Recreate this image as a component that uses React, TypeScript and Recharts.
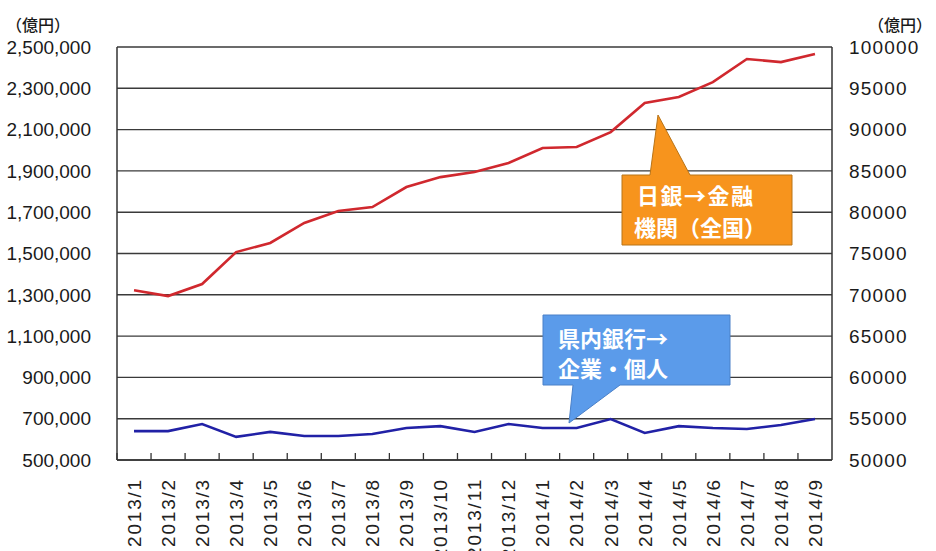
import React from "react";
import { LineChart, Line, XAxis, YAxis, CartesianGrid } from "recharts";

const months = [
  "2013/1", "2013/2", "2013/3", "2013/4", "2013/5", "2013/6", "2013/7",
  "2013/8", "2013/9", "2013/10", "2013/11", "2013/12", "2014/1", "2014/2",
  "2014/3", "2014/4", "2014/5", "2014/6", "2014/7", "2014/8", "2014/9",
];

// 日銀→金融機関（全国） (left axis, 億円)
const bojToBanks = [
  1322000, 1294000, 1352000, 1507000, 1551000, 1648000, 1706000,
  1725000, 1822000, 1870000, 1895000, 1938000, 2011000, 2016000,
  2088000, 2229000, 2258000, 2330000, 2442000, 2427000, 2466000,
];

// 県内銀行→企業・個人 (right axis, 億円)
const localBanksToFirms = [
  53500, 53500, 54360, 52800, 53400, 52900, 52900,
  53150, 53870, 54100, 53400, 54360, 53870, 53870,
  54960, 53270, 54100, 53870, 53750, 54240, 54960,
];

const leftTicks = [500000, 700000, 900000, 1100000, 1300000, 1500000, 1700000, 1900000, 2100000, 2300000, 2500000];
const rightTicks = [50000, 55000, 60000, 65000, 70000, 75000, 80000, 85000, 90000, 95000, 100000];

const data = months.map((m, i) => ({
  month: m,
  boj: bojToBanks[i],
  local: localBanksToFirms[i],
}));

const W = 936;
const H = 551;
const TOP = 47;
const LEFT_W = 117;
const RIGHT_W = 104;
const XAXIS_H = 91;
const PLOT_BOTTOM = H - XAXIS_H;
const HALF_BAND = (W - LEFT_W - RIGHT_W) / months.length / 2;

const FONT = "'Liberation Sans', Arial, sans-serif";
const CJK = "'Noto Sans CJK JP', 'Noto Sans', sans-serif";

const XTick = (props: any) => {
  const { x, payload } = props;
  const bx = x - HALF_BAND;
  return (
    <g>
      <line x1={bx} x2={bx} y1={PLOT_BOTTOM} y2={PLOT_BOTTOM - 7} stroke="#333" strokeWidth={1.3} />
      <text
        x={x}
        y={PLOT_BOTTOM + 18}
        dy="0.36em"
        textAnchor="end"
        transform={`rotate(-90, ${x}, ${PLOT_BOTTOM + 18})`}
        fontFamily={FONT}
        fontSize={19}
        letterSpacing={1.8}
        fill="#222"
      >
        {payload.value}
      </text>
    </g>
  );
};

export default function App() {
  return (
    <div style={{ position: "absolute", left: 0, top: 0, width: W, height: H, background: "#fff" }}>
      <LineChart width={W} height={H} data={data} margin={{ top: TOP, right: 0, bottom: 0, left: 0 }}>
        <CartesianGrid vertical={false} stroke="#3a3a3a" strokeWidth={1.4} yAxisId="left" />
        <XAxis
          dataKey="month"
          interval={0}
          height={XAXIS_H}
          padding={{ left: HALF_BAND, right: HALF_BAND }}
          tickLine={false}
          tick={<XTick />}
          axisLine={{ stroke: "#333", strokeWidth: 1.5 }}
        />
        <YAxis
          yAxisId="left"
          width={LEFT_W}
          domain={[500000, 2500000]}
          ticks={leftTicks}
          interval={0}
          tickSize={0}
          tickMargin={26}
          tickLine={false}
          axisLine={{ stroke: "#333", strokeWidth: 1.5 }}
          tickFormatter={(v: number) => v.toLocaleString("en-US")}
          tick={{ fontFamily: FONT, fontSize: 19, fill: "#1a1a1a" }}
        />
        <YAxis
          yAxisId="right"
          orientation="right"
          width={RIGHT_W}
          domain={[50000, 100000]}
          ticks={rightTicks}
          interval={0}
          tickSize={0}
          tickMargin={17}
          tickLine={false}
          axisLine={{ stroke: "#333", strokeWidth: 1.5 }}
          tick={{ fontFamily: FONT, fontSize: 19, fill: "#1a1a1a", letterSpacing: 1.2 }}
        />
        <Line
          yAxisId="left"
          type="linear"
          dataKey="boj"
          stroke="#D0282E"
          strokeWidth={2.6}
          dot={false}
          isAnimationActive={false}
        />
        <Line
          yAxisId="right"
          type="linear"
          dataKey="local"
          stroke="#2121A6"
          strokeWidth={2.6}
          dot={false}
          isAnimationActive={false}
        />
      </LineChart>
      <svg
        width={W}
        height={H}
        style={{ position: "absolute", left: 0, top: 0, pointerEvents: "none" }}
      >
        <text x={6} y={31} fontFamily={CJK} fontSize={16} fontWeight={500} fill="#1a1a1a">（億円）</text>
        <text x={932} y={31} textAnchor="end" fontFamily={CJK} fontSize={16} fontWeight={500} fill="#1a1a1a">（億円）</text>

        <path
          d="M622,175 L650,175 L658,115 L690,175 L792,175 L792,245 L622,245 Z"
          fill="#F7941D"
          stroke="#B87418"
          strokeWidth={1}
        />
        <text x={637} y={204} fontFamily={CJK} fontWeight={700} fontSize={22} letterSpacing={1.5} fill="#fff">日銀→金融</text>
        <text x={634} y={236} fontFamily={CJK} fontWeight={700} fontSize={22} fill="#fff">機関（全国）</text>

        <path
          d="M543,315 L730,315 L730,385 L620,385 L569,423 L573,385 L543,385 Z"
          fill="#5B9BEA"
          stroke="#4A80C8"
          strokeWidth={1}
        />
        <text x={558} y={347} fontFamily={CJK} fontWeight={700} fontSize={22} fill="#fff">県内銀行→</text>
        <text x={558} y={377} fontFamily={CJK} fontWeight={700} fontSize={22} fill="#fff">企業・個人</text>
      </svg>
    </div>
  );
}
